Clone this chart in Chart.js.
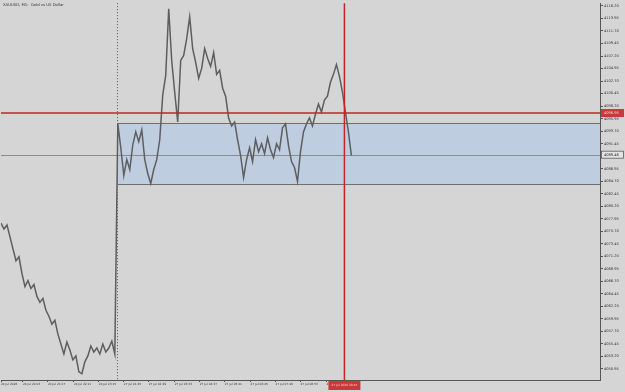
<!DOCTYPE html>
<html>
<head>
<meta charset="utf-8">
<script src="https://cdn.jsdelivr.net/npm/chart.js@4.4.1/dist/chart.umd.min.js"></script>
<style>
  body { margin: 0; background: #d5d5d5; }
  canvas { display: block; }
</style>
</head>
<body>
<canvas id="myChart" width="625" height="392"></canvas>
<script>
'use strict';

// M1 closes, one sample every 3 bars (24 Jul then 27 Jul after the weekend)
let closes = [
  4077.16, 4076.09, 4076.81, 4074.67, 4072.53, 4070.39, 4071.10, 4068.07, 4065.76, 4066.82,
  4065.40, 4066.11, 4063.97, 4062.90, 4063.62, 4061.48, 4060.41, 4058.98, 4059.69, 4057.20,
  4055.42, 4053.63, 4055.77, 4054.35, 4052.56, 4053.28, 4050.43, 4050.07, 4052.21, 4053.28,
  4055.06, 4053.99, 4054.70, 4053.63, 4055.42, 4053.99, 4054.70, 4055.95, 4053.63,
  4094.99, 4090.71, 4085.72, 4088.57, 4086.79, 4091.24, 4093.56, 4091.78, 4093.92, 4088.57,
  4086.08, 4084.29, 4086.79, 4088.57, 4092.14, 4100.16, 4103.72, 4115.67, 4106.40, 4100.69,
  4095.34, 4106.40, 4107.29, 4110.32, 4114.24, 4108.54, 4106.04, 4103.19, 4104.97, 4108.54,
  4106.75, 4105.33, 4107.82, 4103.90, 4104.61, 4101.41, 4099.98, 4096.06, 4094.63, 4095.34,
  4092.14, 4089.28, 4085.36, 4088.57, 4090.71, 4088.21, 4092.14, 4090.00, 4091.42, 4089.64,
  4092.49, 4090.35, 4088.93, 4091.42, 4090.35, 4094.28, 4094.99, 4091.07, 4088.21, 4087.15,
  4084.65, 4090.00, 4093.56, 4094.99, 4096.06, 4094.63, 4096.77, 4098.55, 4097.13, 4099.27,
  4099.98, 4102.47, 4103.90, 4105.68, 4103.54, 4100.69, 4097.13, 4093.56, 4089.28
];
let barStep = 3;

let priceTicks = [
  4116.20, 4113.95, 4111.70, 4109.45, 4107.20, 4104.95, 4102.70, 4100.45, 4098.20, 4095.95,
  4093.70, 4091.45, 4089.20, 4086.95, 4084.70, 4082.45, 4080.20, 4077.95, 4075.70, 4073.45,
  4071.20, 4068.95, 4066.70, 4064.45, 4062.20, 4059.95, 4057.70, 4055.45, 4053.20, 4050.95
];

let timeTickBars = [0, 22, 47, 73, 98, 123, 148, 174, 199, 224, 250, 275, 300, 326];
let timeLabels = [
  '24 Jul 2026', '24 Jul 20:03', '24 Jul 21:07', '24 Jul 22:11', '24 Jul 23:15',
  '27 Jul 01:25', '27 Jul 02:29', '27 Jul 03:33', '27 Jul 04:37', '27 Jul 05:41',
  '27 Jul 06:45', '27 Jul 07:49', '27 Jul 08:53', '27 Jul 09:57'
];

// objects on the chart
let separatorBar = 116.5;
let rectStartBar = 117;
let rectTop = 4095.17;
let rectBottom = 4084.11;
let bidPrice = 4089.46;
let crossPrice = 4096.95;
let crossBar = 344;
let crossTime = '27 Jul 2026 09:45';
let title = 'XAUUSD, M1:  Gold vs US Dollar';

let font = 'DejaVu Sans';

let points = closes.map(function (c, i) { return { x: i * barStep, y: c }; });

const overlay = {
  id: 'overlay',
  beforeDatasetsDraw(chart) {
    let c = chart.ctx;
    let a = chart.chartArea;
    let xs = chart.scales.x;
    let ys = chart.scales.y;
    let x0 = xs.getPixelForValue(rectStartBar);
    let yt = ys.getPixelForValue(rectTop);
    let yb = ys.getPixelForValue(rectBottom);
    c.save();
    c.fillStyle = '#bfcde0';
    c.fillRect(x0, yt, a.right - x0, yb - yt);
    c.strokeStyle = '#6f6f6f';
    c.lineWidth = 1;
    c.beginPath();
    c.moveTo(x0, Math.round(yt) + 0.5); c.lineTo(a.right, Math.round(yt) + 0.5);
    c.moveTo(x0, Math.round(yb) + 0.5); c.lineTo(a.right, Math.round(yb) + 0.5);
    c.stroke();
    // bid line
    let yBid = Math.round(ys.getPixelForValue(bidPrice)) + 0.5;
    c.strokeStyle = '#8c8c8c';
    c.beginPath(); c.moveTo(a.left, yBid); c.lineTo(a.right, yBid); c.stroke();
    // period separator
    let xs0 = Math.round(xs.getPixelForValue(separatorBar)) + 0.5;
    c.strokeStyle = '#555';
    c.setLineDash([1, 2]);
    c.beginPath(); c.moveTo(xs0, a.top); c.lineTo(xs0, a.bottom); c.stroke();
    c.restore();
  },
  afterDatasetsDraw(chart) {
    let c = chart.ctx;
    let a = chart.chartArea;
    let xs = chart.scales.x;
    let ys = chart.scales.y;
    let yc = ys.getPixelForValue(crossPrice);
    let xc = xs.getPixelForValue(crossBar);
    let yBid = ys.getPixelForValue(bidPrice);
    c.save();
    c.strokeStyle = '#c0262c';
    c.lineWidth = 1.5;
    c.beginPath();
    c.moveTo(a.left, yc); c.lineTo(a.right, yc);
    c.moveTo(xc, a.top); c.lineTo(xc, a.bottom);
    c.stroke();

    c.font = '3.6px "' + font + '"';
    c.textBaseline = 'middle';
    c.textAlign = 'left';
    // bid label
    c.fillStyle = '#e4e4e4';
    c.fillRect(a.right + 1, yBid - 4, 23, 8);
    c.strokeStyle = '#555';
    c.lineWidth = 0.8;
    c.strokeRect(a.right + 1.5, yBid - 3.5, 22, 7);
    c.fillStyle = '#222';
    c.fillText(bidPrice.toFixed(2), a.right + 4, yBid);
    // crosshair price label
    c.fillStyle = '#c9393c';
    c.fillRect(a.right + 1, yc - 4, 23, 8);
    c.fillStyle = '#f2d0d0';
    c.fillText(crossPrice.toFixed(2), a.right + 4, yc);
    // crosshair time label
    c.font = '2.9px "' + font + '"';
    c.fillStyle = '#c9393c';
    c.fillRect(xc - 16, a.bottom + 1, 32, 9);
    c.fillStyle = '#f2d0d0';
    c.textAlign = 'center';
    c.fillText(crossTime, xc, a.bottom + 5.5);
    // title
    c.font = '3.8px "' + font + '"';
    c.fillStyle = '#333';
    c.textAlign = 'left';
    c.fillText(title, 3, 5);
    c.restore();
  }
};

let ctx = document.getElementById('myChart').getContext('2d');
let myChart = new Chart(ctx, {
  type: 'line',
  data: {
    datasets: [{
      data: points,
      borderColor: '#5e5e5e',
      borderWidth: 1.5,
      pointRadius: 0,
      tension: 0
    }]
  },
  options: {
    responsive: false,
    animation: false,
    layout: { padding: 0 },
    plugins: { legend: { display: false }, tooltip: { enabled: false } },
    scales: {
      x: {
        type: 'linear',
        min: 0,
        max: 600,
        afterBuildTicks: function (scale) {
          scale.ticks = timeTickBars.map(function (v) { return { value: v }; });
        },
        afterFit: function (scale) { scale.height = 12; },
        grid: { drawOnChartArea: false, drawTicks: true, tickLength: 2, color: '#555' },
        border: { display: true, color: '#555' },
        ticks: {
          autoSkip: false,
          maxRotation: 0,
          align: 'start',
          padding: 1,
          color: '#333',
          font: { family: font, size: 2.9 },
          callback: function (v, i) { return timeLabels[i]; }
        }
      },
      y: {
        position: 'right',
        min: 4048.95,
        max: 4116.70,
        afterBuildTicks: function (scale) {
          scale.ticks = priceTicks.map(function (v) { return { value: v }; });
        },
        afterFit: function (scale) { scale.width = 25; },
        grid: { drawOnChartArea: false, drawTicks: true, tickLength: 3, color: '#555' },
        border: { display: true, color: '#555' },
        ticks: {
          autoSkip: false,
          padding: 1,
          color: '#333',
          font: { family: font, size: 3.6 },
          callback: function (v) { return v.toFixed(2); }
        }
      }
    }
  },
  plugins: [overlay]
});
</script>
</body>
</html>
